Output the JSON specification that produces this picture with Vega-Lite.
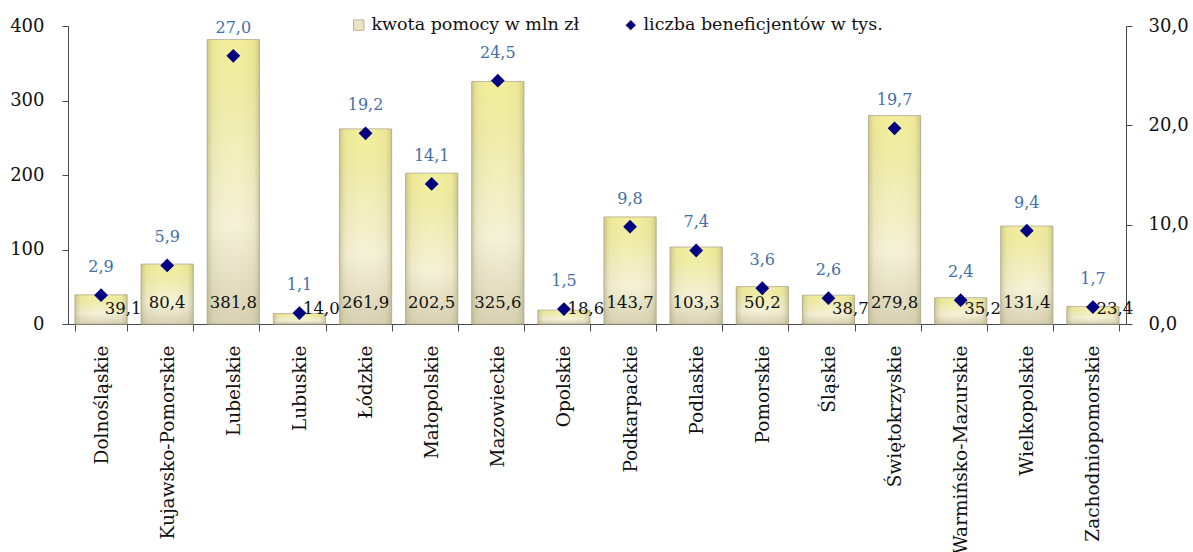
{
  "$schema": "https://vega.github.io/schema/vega-lite/v6.json",
  "width": 1058,
  "height": 298,
  "autosize": {"type": "none"},
  "padding": {"left": 68, "top": 26, "right": 67, "bottom": 228},
  "background": "white",
  "config": {
    "view": {"stroke": null},
    "font": "DejaVu Serif",
    "locale": {"number": {"decimal": ",", "thousands": "\u00a0", "grouping": [3], "currency": ["", " zł"]}},
    "axis": {"labelFont": "DejaVu Serif", "labelColor": "#111111", "domainColor": "#4a4a4a", "tickColor": "#4a4a4a", "grid": false, "title": null}
  },
  "data": {
    "values": [
      {"region": "Dolnośląskie", "kwota": 39.1, "liczba": 2.9},
      {"region": "Kujawsko-Pomorskie", "kwota": 80.4, "liczba": 5.9},
      {"region": "Lubelskie", "kwota": 381.8, "liczba": 27.0},
      {"region": "Lubuskie", "kwota": 14.0, "liczba": 1.1},
      {"region": "Łódzkie", "kwota": 261.9, "liczba": 19.2},
      {"region": "Małopolskie", "kwota": 202.5, "liczba": 14.1},
      {"region": "Mazowieckie", "kwota": 325.6, "liczba": 24.5},
      {"region": "Opolskie", "kwota": 18.6, "liczba": 1.5},
      {"region": "Podkarpackie", "kwota": 143.7, "liczba": 9.8},
      {"region": "Podlaskie", "kwota": 103.3, "liczba": 7.4},
      {"region": "Pomorskie", "kwota": 50.2, "liczba": 3.6},
      {"region": "Śląskie", "kwota": 38.7, "liczba": 2.6},
      {"region": "Świętokrzyskie", "kwota": 279.8, "liczba": 19.7},
      {"region": "Warmińsko-Mazurskie", "kwota": 35.2, "liczba": 2.4},
      {"region": "Wielkopolskie", "kwota": 131.4, "liczba": 9.4},
      {"region": "Zachodniopomorskie", "kwota": 23.4, "liczba": 1.7}
    ]
  },
  "encoding": {
    "x": {
      "field": "region",
      "type": "nominal",
      "sort": null,
      "scale": {"paddingInner": 0.21, "paddingOuter": 0.105},
      "axis": {
        "labelAngle": -90,
        "labelFontSize": 18.5,
        "labelPadding": 14,
        "labelLimit": 0,
        "tickSize": 7,
        "tickBand": "extent",
        "labelAlign": "right",
        "labelBaseline": "middle"
      }
    }
  },
  "layer": [
    {
      "layer": [
        {
          "mark": {
            "type": "bar",
            "stroke": "#bcb79e",
            "strokeWidth": 1,
            "color": {
              "gradient": "linear", "x1": 0, "y1": 0, "x2": 0, "y2": 1,
              "stops": [
                {"offset": 0, "color": "#f2ee94"},
                {"offset": 0.2, "color": "#efeca2"},
                {"offset": 0.65, "color": "#f4f1d6"},
                {"offset": 1, "color": "#d6cfb0"}
              ]
            }
          },
          "encoding": {
            "y": {
              "field": "kwota",
              "type": "quantitative",
              "scale": {"domain": [0, 400], "nice": false},
              "axis": {"values": [0, 100, 200, 300, 400], "format": "d", "labelFontSize": 18, "tickSize": 6, "labelPadding": 18}
            }
          }
        },
        {
          "mark": {
            "type": "bar",
            "strokeWidth": 0,
            "color": {
              "gradient": "linear", "x1": 0, "y1": 0, "x2": 1, "y2": 0,
              "stops": [
                {"offset": 0, "color": "rgba(160,150,110,0.45)"},
                {"offset": 0.12, "color": "rgba(200,195,150,0.15)"},
                {"offset": 0.5, "color": "rgba(255,255,255,0.05)"},
                {"offset": 0.88, "color": "rgba(200,195,150,0.15)"},
                {"offset": 1, "color": "rgba(160,150,110,0.45)"}
              ]
            }
          },
          "encoding": {"y": {"field": "kwota", "type": "quantitative"}}
        },
        {
          "transform": [{"filter": {"not": {"field": "region", "oneOf": ["Dolnośląskie", "Lubuskie", "Opolskie", "Śląskie", "Warmińsko-Mazurskie", "Zachodniopomorskie"]}}}],
          "mark": {"type": "text", "fontSize": 16.5, "color": "#111111", "dy": -21, "font": "DejaVu Serif"},
          "encoding": {
            "y": {"datum": 0, "type": "quantitative"},
            "text": {"field": "kwota", "type": "quantitative", "format": ".1f"}
          }
        },
        {
          "transform": [{"filter": {"field": "region", "oneOf": ["Dolnośląskie", "Lubuskie", "Opolskie", "Śląskie", "Warmińsko-Mazurskie", "Zachodniopomorskie"]}}],
          "mark": {"type": "text", "fontSize": 16.5, "color": "#111111", "dy": -15, "dx": 22, "font": "DejaVu Serif"},
          "encoding": {
            "y": {"datum": 0, "type": "quantitative"},
            "text": {"field": "kwota", "type": "quantitative", "format": ".1f"}
          }
        }
      ]
    },
    {
      "layer": [
        {
          "mark": {"type": "point", "filled": true, "size": 190, "opacity": 1},
          "encoding": {
            "y": {
              "field": "liczba",
              "type": "quantitative",
              "scale": {"domain": [0, 30], "nice": false},
              "axis": {"orient": "right", "values": [0, 10, 20, 30], "format": ".1f", "labelFontSize": 18, "tickSize": 6, "labelPadding": 16}
            },
            "color": {
              "datum": "liczba beneficjentów w tys.",
              "type": "nominal",
              "scale": {"domain": ["kwota pomocy w mln zł", "liczba beneficjentów w tys."], "range": ["#e9e5c2", "#000080"]},
              "legend": {
                "title": null,
                "orient": "none",
                "direction": "horizontal",
                "legendX": 282,
                "legendY": -10,
                "labelFontSize": 17.5,
                "labelFont": "DejaVu Serif",
                "labelColor": "#111111",
                "labelLimit": 400,
                "symbolSize": 110,
                "symbolStrokeColor": "#aaa68c",
                "symbolStrokeWidth": 0.8,
                "labelOffset": 4,
                "columnPadding": 42,
                "padding": 0
              }
            },
            "shape": {
              "datum": "liczba beneficjentów w tys.",
              "type": "nominal",
              "scale": {"domain": ["kwota pomocy w mln zł", "liczba beneficjentów w tys."], "range": ["square", "diamond"]},
              "legend": {
                "title": null,
                "orient": "none",
                "direction": "horizontal",
                "legendX": 282,
                "legendY": -10,
                "labelFontSize": 17.5,
                "labelFont": "DejaVu Serif",
                "labelColor": "#111111",
                "labelLimit": 400,
                "symbolSize": 110,
                "symbolStrokeColor": "#aaa68c",
                "symbolStrokeWidth": 0.8,
                "labelOffset": 4,
                "columnPadding": 42,
                "padding": 0
              }
            }
          }
        },
        {
          "mark": {"type": "text", "fontSize": 16, "color": "#4470a8", "dy": -28, "font": "DejaVu Serif"},
          "encoding": {
            "y": {"field": "liczba", "type": "quantitative"},
            "text": {"field": "liczba", "type": "quantitative", "format": ".1f"}
          }
        }
      ]
    }
  ],
  "resolve": {"scale": {"y": "independent"}}
}
